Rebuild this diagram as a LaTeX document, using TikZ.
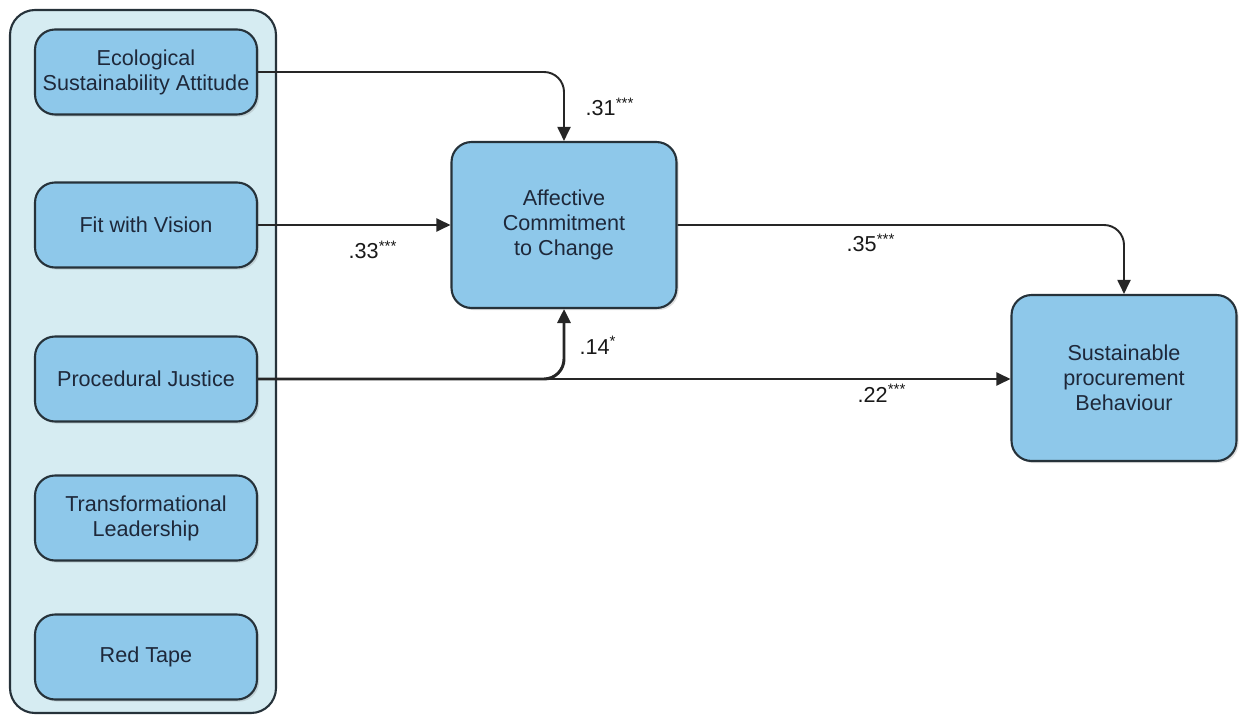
\documentclass[tikz,border=0pt]{standalone}
\usepackage{fontspec}
\setmainfont{Liberation Sans}
\usepackage{tikz}
\usetikzlibrary{positioning, arrows.meta, shadows}
\definecolor{boxblue}{RGB}{142,200,234}
\definecolor{groupblue}{RGB}{214,236,242}
\definecolor{edgedark}{RGB}{38,50,58}
\definecolor{textnavy}{RGB}{30,40,58}
\tikzset{
  factor/.style={draw=edgedark, line width=1.2pt, fill=boxblue, rounded corners=0.4cm,
    minimum width=4.44cm, minimum height=1.7cm, align=center, text=textnavy,
    drop shadow={shadow xshift=1.2pt, shadow yshift=-1.2pt, opacity=0.25}},
  outcome/.style={factor, minimum width=4.5cm, minimum height=3.32cm},
  group/.style={draw=edgedark, line width=1.2pt, fill=groupblue, rounded corners=0.5cm},
  path/.style={-{Triangle[length=0.28cm, width=0.26cm]}, line width=1.1pt, black!85, rounded corners=0.4cm},
  coef/.style={text=black!90}
}

\begin{document}
\begin{tikzpicture}[x=0.02cm, y=-0.02cm, font=\fontsize{12.3}{14.2}\selectfont]
            \useasboundingbox (0,0) rectangle (1241,716);
            \draw [group] (10,10) rectangle (276,713);
            \node [factor] (eco) at (146,72) {Ecological\\Sustainability Attitude};
            \node [factor] (fit) at (146,225) {Fit with Vision};
            \node [factor] (just) at (146,379) {Procedural Justice};
            \node [factor] (lead) at (146,518) {Transformational\\Leadership};
            \node [factor] (tape) at (146,657) {Red Tape};
            \node [outcome] (acc) at (564,225) {Affective\\Commitment\\to Change};
            \node [outcome] (spb) at (1124,378) {Sustainable\\procurement\\Behaviour};
            \draw [path] (eco.east) -| (acc.north);
            \draw [path] (fit.east) -- (acc.west);
            \draw [path, line width=1.7pt] (just.east) -| (acc.south);
            \draw [path] (just.east) -- (just.east -| spb.west);
            \draw [path] (acc.east) -| (spb.north);
            \node [coef] (c31) at (610,107) {.31\textsuperscript{***}};
            \node [coef] (c33) at (373,250) {.33\textsuperscript{***}};
            \node [coef] (c14) at (598,345) {.14\textsuperscript{*}};
            \node [coef] (c35) at (871,243) {.35\textsuperscript{***}};
            \node [coef] (c22) at (882,393) {.22\textsuperscript{***}};
        \end{tikzpicture}
\end{document}
